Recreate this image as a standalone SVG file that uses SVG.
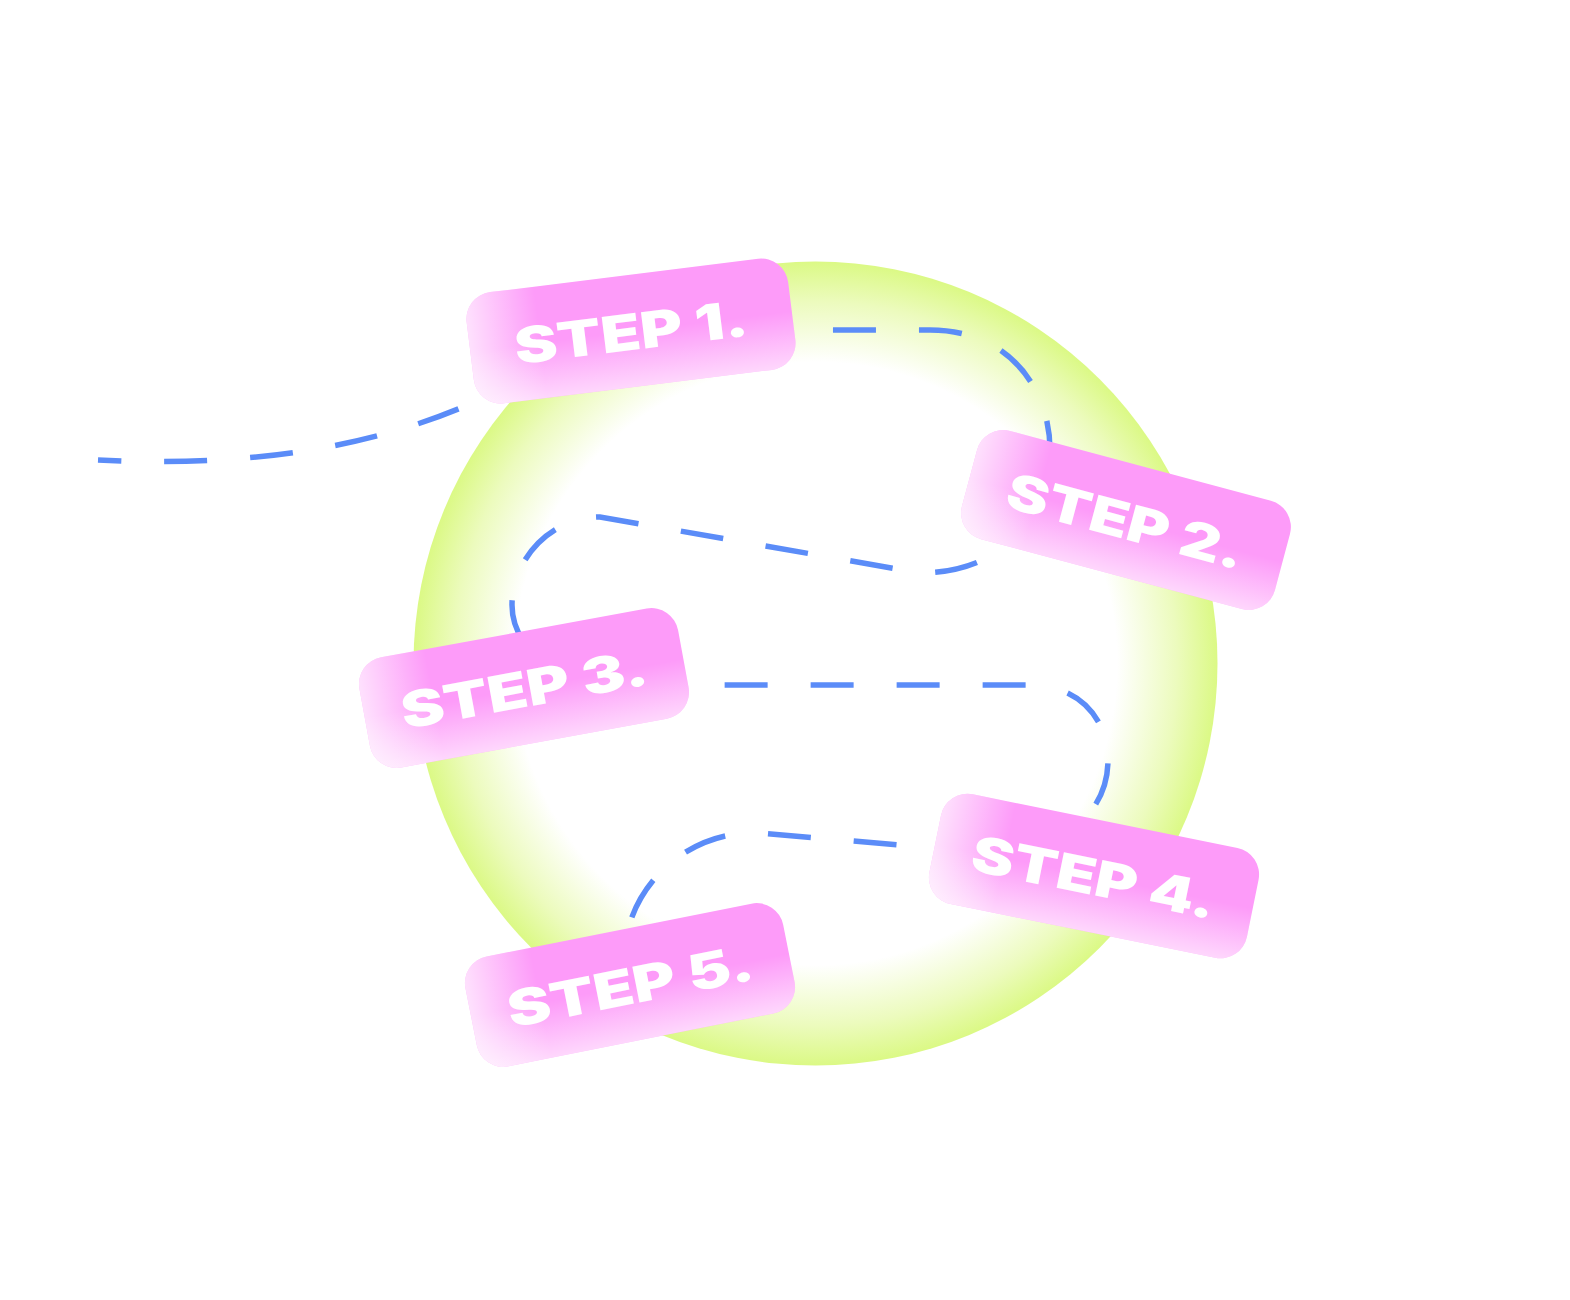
<svg xmlns="http://www.w3.org/2000/svg" width="1570" height="1300" viewBox="0 0 1570 1300">
  <defs>
    <radialGradient id="ringGrad" cx="0.5" cy="0.5" r="0.5">
      <stop offset="0" stop-color="#ffffff"/>
      <stop offset="0.75" stop-color="#ffffff"/>
      <stop offset="0.9" stop-color="#ecfbbd"/>
      <stop offset="1" stop-color="#dbf985"/>
    </radialGradient>
    <linearGradient id="leftFade" x1="0" y1="0" x2="1" y2="0">
      <stop offset="0" stop-color="#ffffff" stop-opacity="0.7"/>
      <stop offset="0.22" stop-color="#ffffff" stop-opacity="0"/>
    </linearGradient>
    <linearGradient id="bottomFade" x1="0" y1="0" x2="0" y2="1">
      <stop offset="0.5" stop-color="#ffffff" stop-opacity="0"/>
      <stop offset="1" stop-color="#ffffff" stop-opacity="0.6"/>
    </linearGradient>
    <style>
      .lbl-base { fill: #fd9bf9; }
      .lbl-left { fill: url(#leftFade); }
      .lbl-bottom { fill: url(#bottomFade); }
      .lbl-text { fill: #ffffff; font-family: Inter, "DejaVu Sans", "Liberation Sans", sans-serif; font-weight: 900; font-size: 50px; text-anchor: middle; }
      .connector { fill: none; stroke: #5b8cf8; stroke-width: 5.5; stroke-dasharray: 43 43; }
    </style>
  </defs>

  <rect width="1570" height="1300" fill="#ffffff"/>

  <g id="ring">
    <circle cx="815.5" cy="663.5" r="402" fill="url(#ringGrad)"/>
  </g>

  <g id="connectors">
    <path class="connector" stroke-dashoffset="20" d="M98,460 C 260,468 390,445 500,390 C 580,350 700,330 780,330 L 930,330 C 1010,330 1050,390 1050,450 C 1050,520 1000,573 920,573 L 600,517 C 550,517 512,560 512,605 C 512,650 560,685 620,685 L 1030,685 C 1080,685 1108,720 1108,760 C 1108,815 1060,855 980,852 L 760,833 C 690,830 640,880 628,930 L 620,960"/>
  </g>

  <g id="step1" transform="translate(631,331) rotate(-7.1)">
    <rect class="lbl-base" x="-162" y="-56" width="324" height="112" rx="27"/>
    <rect class="lbl-left" x="-162" y="-56" width="324" height="112" rx="27"/>
    <rect class="lbl-bottom" x="-162" y="-56" width="324" height="112" rx="27"/>
    <text class="lbl-text" x="0" y="19" textLength="235" lengthAdjust="spacingAndGlyphs">STEP 1.</text>
  </g>

  <g id="step2" transform="translate(1126,520) rotate(15)">
    <rect class="lbl-base" x="-162" y="-56" width="324" height="112" rx="27"/>
    <rect class="lbl-left" x="-162" y="-56" width="324" height="112" rx="27"/>
    <rect class="lbl-bottom" x="-162" y="-56" width="324" height="112" rx="27"/>
    <text class="lbl-text" x="0" y="19" textLength="244" lengthAdjust="spacingAndGlyphs">STEP 2.</text>
  </g>

  <g id="step3" transform="translate(524,688) rotate(-10.4)">
    <rect class="lbl-base" x="-162" y="-56" width="324" height="112" rx="27"/>
    <rect class="lbl-left" x="-162" y="-56" width="324" height="112" rx="27"/>
    <rect class="lbl-bottom" x="-162" y="-56" width="324" height="112" rx="27"/>
    <text class="lbl-text" x="0" y="19" textLength="250" lengthAdjust="spacingAndGlyphs">STEP 3.</text>
  </g>

  <g id="step4" transform="translate(1094,876) rotate(11.5)">
    <rect class="lbl-base" x="-162" y="-56" width="324" height="112" rx="27"/>
    <rect class="lbl-left" x="-162" y="-56" width="324" height="112" rx="27"/>
    <rect class="lbl-bottom" x="-162" y="-56" width="324" height="112" rx="27"/>
    <text class="lbl-text" x="0" y="19" textLength="248" lengthAdjust="spacingAndGlyphs">STEP 4.</text>
  </g>

  <g id="step5" transform="translate(630,985) rotate(-11.3)">
    <rect class="lbl-base" x="-162" y="-56" width="324" height="112" rx="27"/>
    <rect class="lbl-left" x="-162" y="-56" width="324" height="112" rx="27"/>
    <rect class="lbl-bottom" x="-162" y="-56" width="324" height="112" rx="27"/>
    <text class="lbl-text" x="0" y="19" textLength="250" lengthAdjust="spacingAndGlyphs">STEP 5.</text>
  </g>
</svg>
